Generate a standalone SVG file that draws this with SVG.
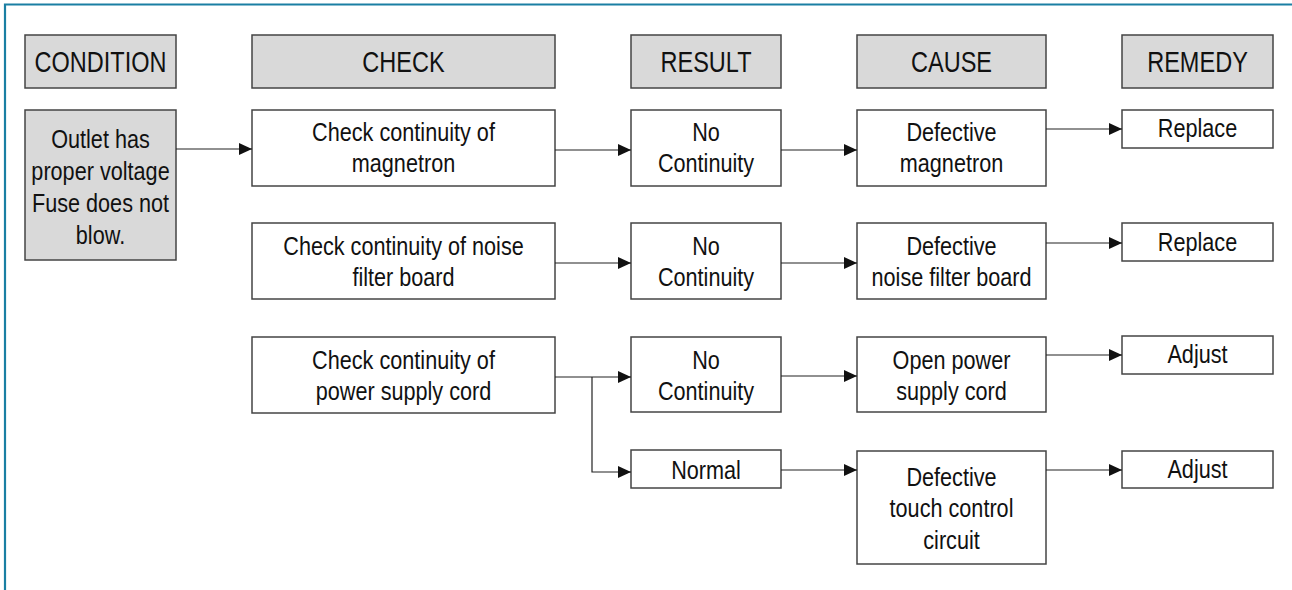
<svg xmlns="http://www.w3.org/2000/svg" width="1292" height="590" viewBox="0 0 1292 590">
<defs>
<marker id="ah" markerUnits="userSpaceOnUse" markerWidth="13" markerHeight="12" refX="13" refY="6" orient="auto">
<path d="M0,0 L13,6 L0,12 z" fill="#111"/>
</marker>
<style>
.hd{fill:#d9d9d9;stroke:#444;stroke-width:1.5}
.bx{fill:#fff;stroke:#444;stroke-width:1.5}
.h{font-family:"Liberation Sans",Arial,sans-serif;font-size:28.7px;fill:#111;text-anchor:middle}
.b{font-family:"Liberation Sans",Arial,sans-serif;font-size:26.4px;fill:#111;text-anchor:middle}
.c{fill:none;stroke:#222;stroke-width:1.2}
</style>
</defs>
<rect width="1292" height="590" fill="#fff"/>
<g id="frame" stroke="#1a7fa3" stroke-width="2.2" fill="none">
<path d="M5,590 V4.5 H1292"/>
</g>
<g id="headers">
<g id="h-condition"><rect class="hd" x="25" y="35" width="151" height="53"/><text class="h" transform="translate(100.5 72) scale(0.82 1)">CONDITION</text></g>
<g id="h-check"><rect class="hd" x="252" y="35" width="303" height="53"/><text class="h" transform="translate(403.5 72) scale(0.82 1)">CHECK</text></g>
<g id="h-result"><rect class="hd" x="631" y="35" width="150" height="53"/><text class="h" transform="translate(706 72) scale(0.82 1)">RESULT</text></g>
<g id="h-cause"><rect class="hd" x="857" y="35" width="189" height="53"/><text class="h" transform="translate(951.5 72) scale(0.82 1)">CAUSE</text></g>
<g id="h-remedy"><rect class="hd" x="1122" y="35" width="151" height="53"/><text class="h" transform="translate(1197.5 72) scale(0.82 1)">REMEDY</text></g>
</g>
<g id="condition"><rect class="hd" x="25" y="110" width="151" height="150"/><text class="b" transform="translate(100.5 148) scale(0.82 1)"><tspan x="0" y="0">Outlet has</tspan><tspan x="0" y="32">proper voltage</tspan><tspan x="0" y="64">Fuse does not</tspan><tspan x="0" y="96">blow.</tspan></text></g>
<g id="check1"><rect class="bx" x="252" y="110" width="303" height="76"/><text class="b" transform="translate(403.5 141) scale(0.82 1)"><tspan x="0" y="0">Check continuity of</tspan><tspan x="0" y="31.5">magnetron</tspan></text></g>
<g id="result1"><rect class="bx" x="631" y="110" width="150" height="76"/><text class="b" transform="translate(706 141) scale(0.82 1)"><tspan x="0" y="0">No</tspan><tspan x="0" y="31.5">Continuity</tspan></text></g>
<g id="cause1"><rect class="bx" x="857" y="110" width="189" height="76"/><text class="b" transform="translate(951.5 141) scale(0.82 1)"><tspan x="0" y="0">Defective</tspan><tspan x="0" y="31.5">magnetron</tspan></text></g>
<g id="remedy1"><rect class="bx" x="1122" y="110" width="151" height="38"/><text class="b" transform="translate(1197.5 137) scale(0.82 1)">Replace</text></g>
<g id="check2"><rect class="bx" x="252" y="223" width="303" height="76"/><text class="b" transform="translate(403.5 254.5) scale(0.82 1)"><tspan x="0" y="0">Check continuity of noise</tspan><tspan x="0" y="31.5">filter board</tspan></text></g>
<g id="result2"><rect class="bx" x="631" y="223" width="150" height="76"/><text class="b" transform="translate(706 254.5) scale(0.82 1)"><tspan x="0" y="0">No</tspan><tspan x="0" y="31.5">Continuity</tspan></text></g>
<g id="cause2"><rect class="bx" x="857" y="223" width="189" height="76"/><text class="b" transform="translate(951.5 254.5) scale(0.82 1)"><tspan x="0" y="0">Defective</tspan><tspan x="0" y="31.5">noise filter board</tspan></text></g>
<g id="remedy2"><rect class="bx" x="1122" y="223" width="151" height="38"/><text class="b" transform="translate(1197.5 250.5) scale(0.82 1)">Replace</text></g>
<g id="check3"><rect class="bx" x="252" y="337" width="303" height="76"/><text class="b" transform="translate(403.5 368.5) scale(0.82 1)"><tspan x="0" y="0">Check continuity of</tspan><tspan x="0" y="31.5">power supply cord</tspan></text></g>
<g id="result3"><rect class="bx" x="631" y="337" width="150" height="75"/><text class="b" transform="translate(706 368.5) scale(0.82 1)"><tspan x="0" y="0">No</tspan><tspan x="0" y="31.5">Continuity</tspan></text></g>
<g id="cause3"><rect class="bx" x="857" y="337" width="189" height="75"/><text class="b" transform="translate(951.5 368.5) scale(0.82 1)"><tspan x="0" y="0">Open power</tspan><tspan x="0" y="31.5">supply cord</tspan></text></g>
<g id="remedy3"><rect class="bx" x="1122" y="336" width="151" height="38"/><text class="b" transform="translate(1197.5 363) scale(0.82 1)">Adjust</text></g>
<g id="result4"><rect class="bx" x="631" y="450" width="150" height="38"/><text class="b" transform="translate(706 478.5) scale(0.82 1)">Normal</text></g>
<g id="cause4"><rect class="bx" x="857" y="451" width="189" height="113"/><text class="b" transform="translate(951.5 485.5) scale(0.82 1)"><tspan x="0" y="0">Defective</tspan><tspan x="0" y="31.8">touch control</tspan><tspan x="0" y="63.6">circuit</tspan></text></g>
<g id="remedy4"><rect class="bx" x="1122" y="451" width="151" height="37"/><text class="b" transform="translate(1197.5 478) scale(0.82 1)">Adjust</text></g>
<g id="connectors">
<path class="c" d="M176,149 H252" marker-end="url(#ah)"/>
<path class="c" d="M555,150 H631" marker-end="url(#ah)"/>
<path class="c" d="M781,150 H857" marker-end="url(#ah)"/>
<path class="c" d="M1046,129 H1122" marker-end="url(#ah)"/>
<path class="c" d="M555,263 H631" marker-end="url(#ah)"/>
<path class="c" d="M781,263 H857" marker-end="url(#ah)"/>
<path class="c" d="M1046,243 H1122" marker-end="url(#ah)"/>
<path class="c" d="M555,377 H631" marker-end="url(#ah)"/>
<path class="c" d="M592,377 V472 H631" marker-end="url(#ah)"/>
<path class="c" d="M781,376 H857" marker-end="url(#ah)"/>
<path class="c" d="M1046,355 H1122" marker-end="url(#ah)"/>
<path class="c" d="M781,470 H857" marker-end="url(#ah)"/>
<path class="c" d="M1046,470 H1122" marker-end="url(#ah)"/>
</g>
</svg>
